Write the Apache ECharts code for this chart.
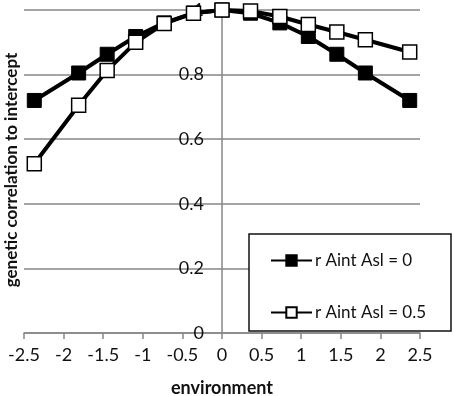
<!DOCTYPE html>
<html><head><meta charset="utf-8">
<script src="https://cdn.jsdelivr.net/npm/echarts@6/dist/echarts.min.js"></script>
<style>html,body{margin:0;padding:0;background:#fff}#c{width:454px;height:396px}</style>
</head><body><div id="c"></div>
<script>
const environment = [-2.37, -1.81, -1.45, -1.09, -0.73, -0.36, 0, 0.36, 0.73, 1.09, 1.45, 1.81, 2.37];
const corrR0 = [0.72, 0.805, 0.863, 0.918, 0.96, 0.99, 1.0, 0.99, 0.96, 0.918, 0.863, 0.805, 0.72];
const corrR05 = [0.524, 0.705, 0.813, 0.90, 0.958, 0.99, 1.0, 0.997, 0.98, 0.955, 0.932, 0.908, 0.87];
const seriesNames = ['r Aint Asl = 0', 'r Aint Asl = 0.5'];
const xTitle = 'environment';
const yTitle = 'genetic correlation to intercept';

const font = 'Lato';
const fs = 18;
const chart = echarts.init(document.getElementById('c'));
const pairs = (xs, ys) => xs.map((x, i) => [x, ys[i]]);
chart.setOption({
  animation: false,
  textStyle: {fontFamily: font, color: '#111'},
  grid: {left: 24, right: 34, top: 10, bottom: 63, containLabel: false, outerBoundsMode: 'none'},
  xAxis: {
    type: 'value', min: -2.5, max: 2.5, interval: 0.5,
    name: xTitle, nameLocation: 'middle', nameGap: 46,
    nameTextStyle: {fontFamily: font, fontWeight: 'bold', fontSize: fs, color: '#111'},
    axisLine: {onZero: false, lineStyle: {color: '#878787', width: 1.5}},
    axisTick: {show: true, length: 6, lineStyle: {color: '#878787', width: 1.5}},
    axisLabel: {fontFamily: font, fontSize: fs, color: '#111', margin: 13},
    splitLine: {show: false}
  },
  yAxis: {
    type: 'value', min: 0, max: 1, interval: 0.2,
    axisLine: {show: true, onZero: true, lineStyle: {color: '#878787', width: 1.5}},
    axisTick: {show: false},
    axisLabel: {fontFamily: font, fontSize: fs, color: '#111', margin: -180},
    splitLine: {show: true, lineStyle: {color: '#878787', width: 1.5}}
  },
  legend: {
    orient: 'vertical', left: 270, top: 252,
    padding: 0, itemGap: 35,
    itemWidth: 41, itemHeight: 13,
    textStyle: {fontFamily: font, fontSize: 17, color: '#111', padding: [0, 0, 0, -2]},
    data: seriesNames, z: 10
  },
  graphic: [{
    type: 'rect', shape: {x: 249, y: 234, width: 202, height: 97}, z: 8,
    style: {fill: '#fff', stroke: '#111', lineWidth: 1.5}
  }, {
    type: 'text', x: 12, y: 170, rotation: Math.PI / 2,
    style: {text: yTitle, fontFamily: font, fontWeight: 'bold', fontSize: 17, fill: '#111',
            align: 'center', verticalAlign: 'middle'}
  }],
  series: [
    {
      name: seriesNames[0], type: 'line', data: pairs(environment, corrR0),
      symbol: 'rect', symbolSize: 14, lineStyle: {color: '#000', width: 4},
      itemStyle: {color: '#000', borderColor: '#000', borderWidth: 1}, z: 2
    },
    {
      name: seriesNames[1], type: 'line', data: pairs(environment, corrR05),
      symbol: 'rect', symbolSize: 14, lineStyle: {color: '#000', width: 4},
      itemStyle: {color: '#fff', borderColor: '#000', borderWidth: 1.5}, z: 3
    }
  ]
});
</script></body></html>
